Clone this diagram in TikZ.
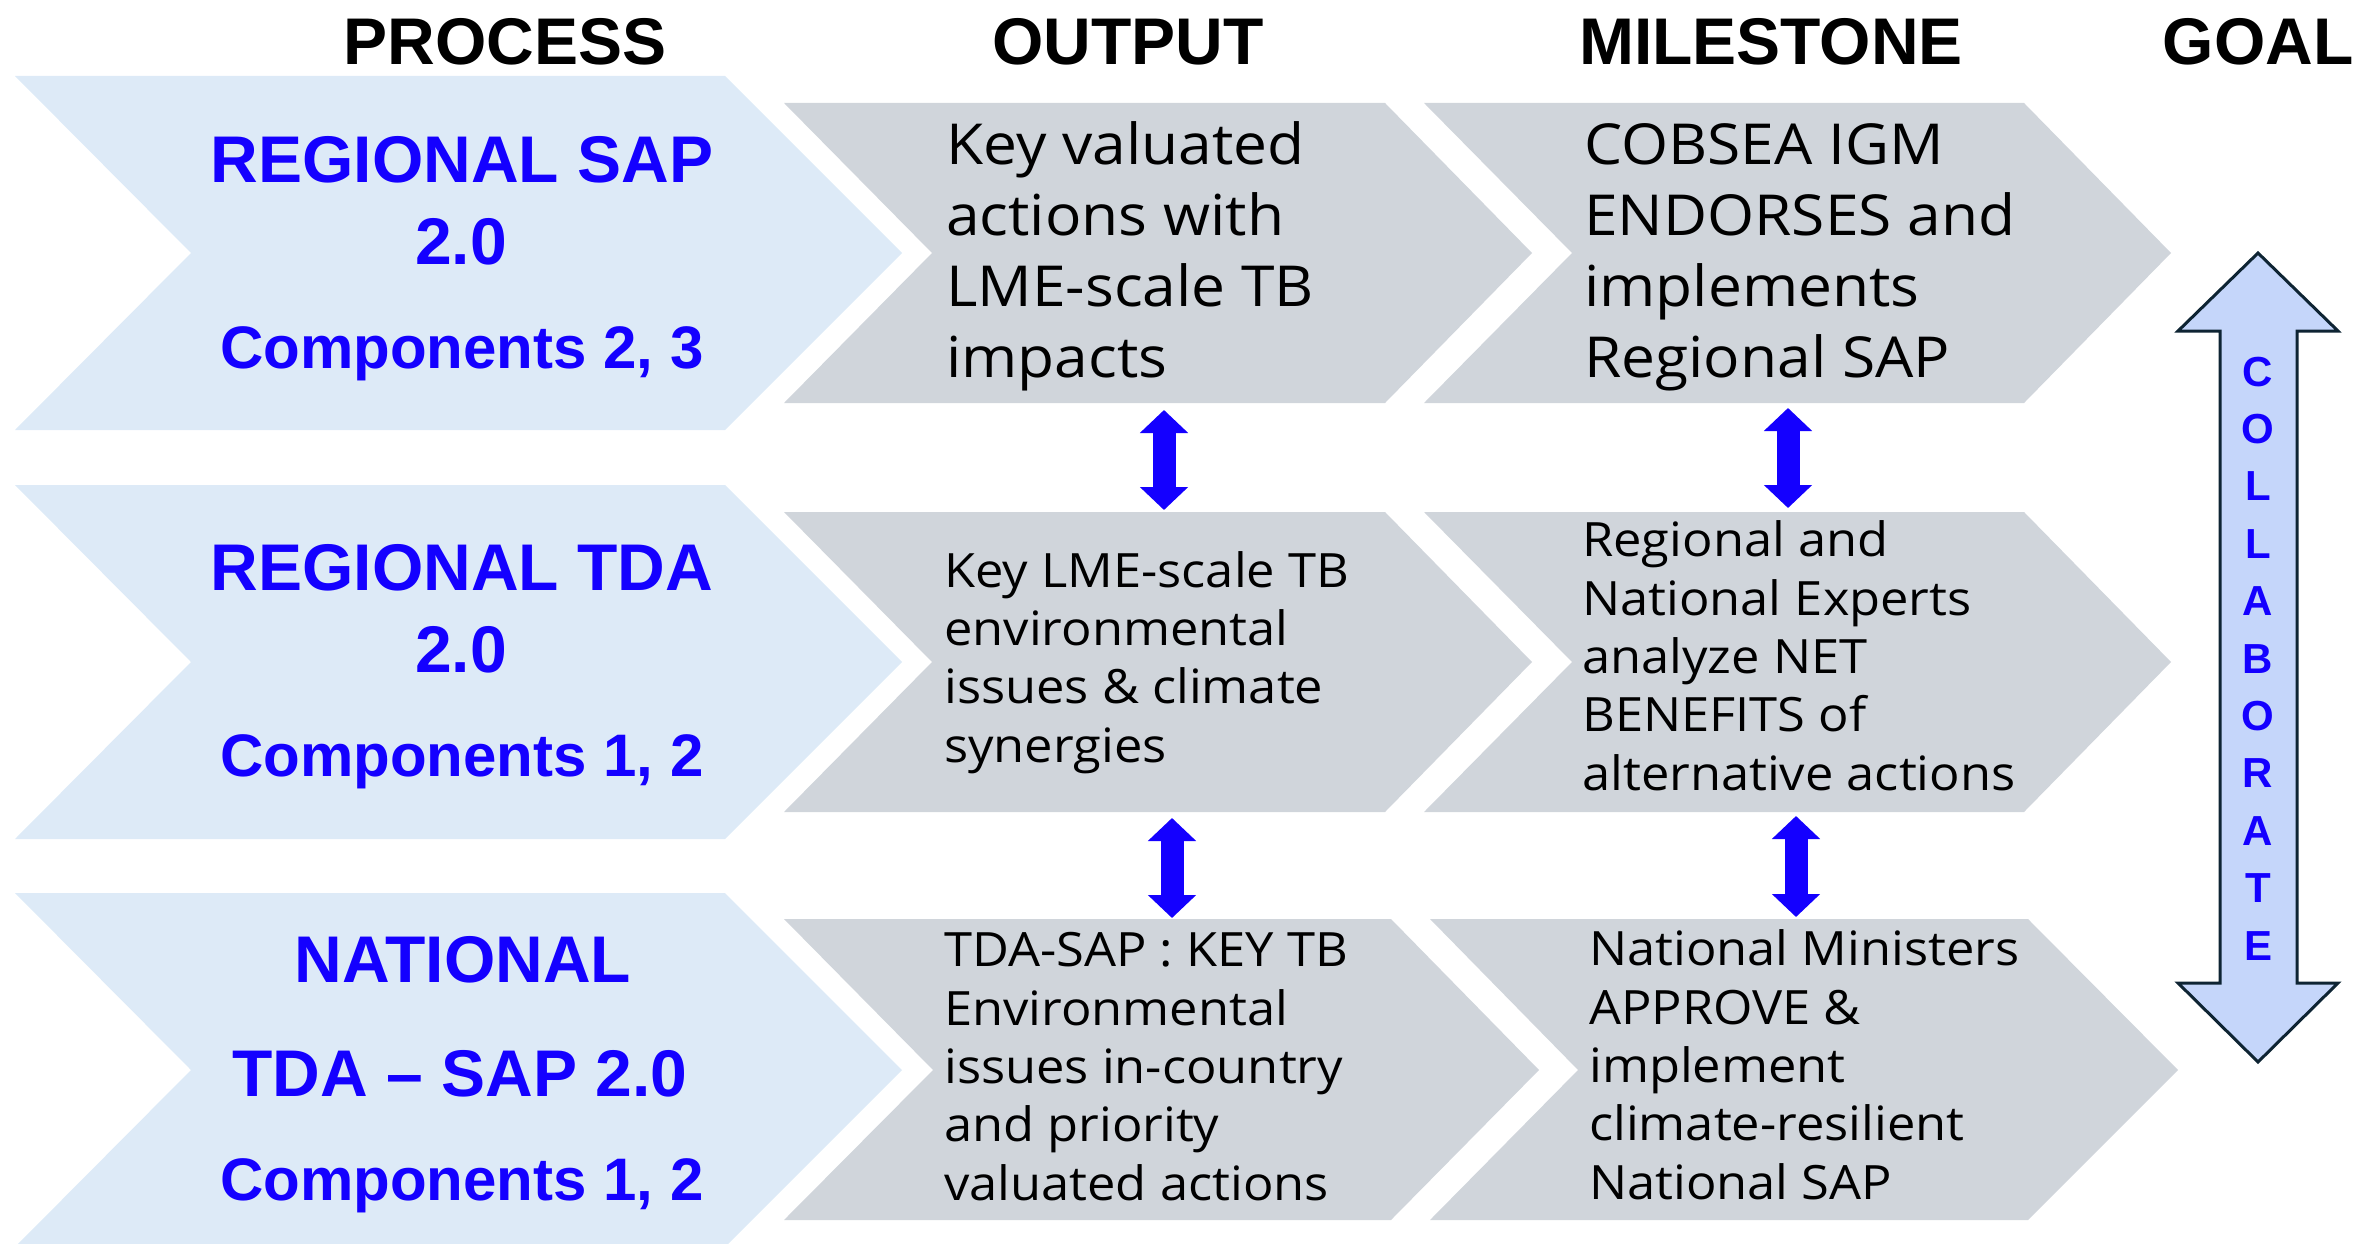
\documentclass[tikz,border=0pt]{standalone}
\usepackage{fontspec}
\setmainfont{Liberation Sans}
\newfontfamily\graytext[FakeStretch=1.07]{Open Sans}
\usetikzlibrary{arrows.meta}
\definecolor{procblue}{RGB}{20,0,255}
\definecolor{chevblue}{RGB}{221,234,247}
\definecolor{chevgray}{RGB}{208,213,219}
\definecolor{collabfill}{RGB}{197,214,250}
\definecolor{collabline}{RGB}{14,36,51}
\begin{document}
\begin{tikzpicture}[x=1pt,y=-1pt,
  bluechev/.style={fill=chevblue,draw=none},
  graychev/.style={fill=chevgray,draw=none},
  headtext/.style={font=\fontsize{66}{78}\selectfont\bfseries,anchor=base,inner sep=0},
  bluebig/.style={text=procblue,font=\fontsize{66}{79}\selectfont\bfseries,anchor=base,inner sep=0},
  bluesmall/.style={text=procblue,font=\fontsize{60}{72}\selectfont\bfseries,anchor=base,inner sep=0},
  bigtext/.style={font=\graytext\fontsize{56.5}{70.7}\selectfont,align=left,anchor=base west,inner sep=0},
  smalltext/.style={font=\graytext\fontsize{47.3}{58.3}\selectfont,align=left,anchor=base west,inner sep=0},
  dblarrow/.style={draw=procblue,line width=23pt,
    {Triangle[width=47pt,length=23pt]}-{Triangle[width=47pt,length=23pt]}},
  collab/.style={fill=collabfill,draw=collabline,line width=3pt,line join=miter},
  collabtext/.style={text=procblue,font=\fontsize{42}{57.4}\selectfont\bfseries,align=center,anchor=base,inner sep=0}]
\useasboundingbox (0,0) rectangle (2379,1244);

% headers
\node[headtext] (hproc) at (505,65) {PROCESS};
\node[headtext] (hout) at (1128,65) {OUTPUT};
\node[headtext] (hmile) at (1771,65) {MILESTONE};
\node[headtext] (hgoal) at (2258,65) {GOAL};

% process chevrons
\path[bluechev] (15,76) -- (725,76) -- (902,253) -- (725,430) -- (15,430) -- (191,253) -- cycle;
\path[bluechev] (15,485) -- (725,485) -- (902,662) -- (725,839) -- (15,839) -- (191,662) -- cycle;
\path[bluechev] (15,893) -- (725,893) -- (902,1070) -- (725,1247) -- (15,1247) -- (191,1070) -- cycle;

% output chevrons
\path[graychev] (784,103) -- (1385,103) -- (1532,253) -- (1385,403) -- (784,403) -- (932,253) -- cycle;
\path[graychev] (784,512) -- (1385,512) -- (1532,662) -- (1385,812) -- (784,812) -- (932,662) -- cycle;
\path[graychev] (784,919) -- (1391,919) -- (1539,1070) -- (1391,1220) -- (784,1220) -- (933,1070) -- cycle;

% milestone chevrons
\path[graychev] (1424,103) -- (2024,103) -- (2171,253) -- (2024,403) -- (1424,403) -- (1572,253) -- cycle;
\path[graychev] (1424,512) -- (2024,512) -- (2171,662) -- (2024,812) -- (1424,812) -- (1572,662) -- cycle;
\path[graychev] (1430,919) -- (2028,919) -- (2178,1070) -- (2028,1220) -- (1430,1220) -- (1578,1070) -- cycle;

% process texts
\node[bluebig] (p1a) at (462,182) {REGIONAL SAP};
\node[bluebig] (p1b) at (461,264) {2.0};
\node[bluesmall] (p1c) at (462,368) {Components 2, 3};
\node[bluebig] (p2a) at (462,590) {REGIONAL TDA};
\node[bluebig] (p2b) at (461,672) {2.0};
\node[bluesmall] (p2c) at (462,776) {Components 1, 2};
\node[bluebig] (p3a) at (463,982) {NATIONAL};
\node[bluebig] (p3b) at (460,1096) {TDA -- SAP 2.0};
\node[bluesmall] (p3c) at (462,1200) {Components 1, 2};

% output / milestone texts (anchored at the baseline of the last line)
\node[bigtext] (o1) at (946,377) {Key valuated\\actions with\\LME-scale TB\\impacts};
\node[bigtext] (m1) at (1584,377) {COBSEA IGM\\ENDORSES and\\implements\\Regional SAP};
\node[smalltext] (o2) at (944,762) {Key LME-scale TB\\environmental\\issues \& climate\\synergies};
\node[smalltext] (m2) at (1582,790) {Regional and\\National Experts\\analyze NET\\BENEFITS of\\alternative actions};
\node[smalltext] (o3) at (944,1200) {TDA-SAP : KEY TB\\Environmental\\issues in-country\\and priority\\valuated actions};
\node[smalltext] (m3) at (1589,1199) {National Ministers\\APPROVE \&\\implement\\climate-resilient\\National SAP};

% double arrows between rows
\coordinate (oa1) at (1164,410);
\coordinate (oa2) at (1164,510);
\coordinate (ma1) at (1788,408);
\coordinate (ma2) at (1788,508);
\coordinate (ob1) at (1172,818);
\coordinate (ob2) at (1172,918);
\coordinate (mb1) at (1796,816);
\coordinate (mb2) at (1796,917);
\draw[dblarrow] (oa1) -- (oa2);
\draw[dblarrow] (ma1) -- (ma2);
\draw[dblarrow] (ob1) -- (ob2);
\draw[dblarrow] (mb1) -- (mb2);

% collaborate arrow
\path[collab] (2258,253) -- (2338,331) -- (2297,331) -- (2297,983) -- (2338,983)
  -- (2258,1062) -- (2178,983) -- (2220,983) -- (2220,331) -- (2178,331) -- cycle;
\node[collabtext] (ctext) at (2258,960) {C\\O\\L\\L\\A\\B\\O\\R\\A\\T\\E};
\end{tikzpicture}
\end{document}
